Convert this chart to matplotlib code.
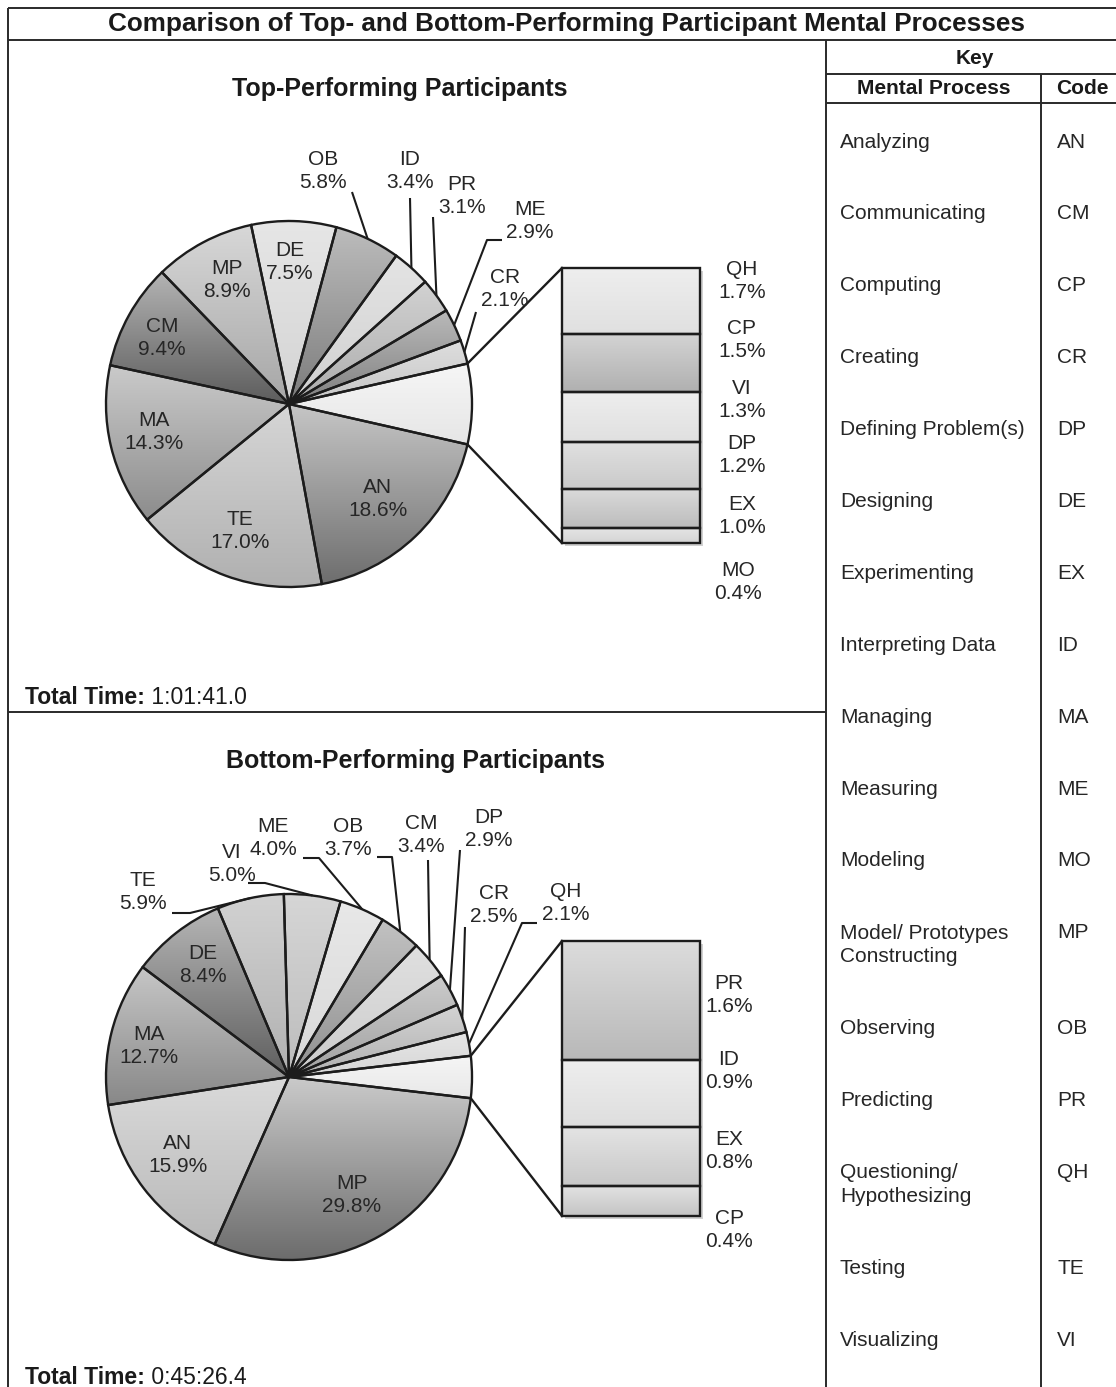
import numpy as np
import matplotlib
matplotlib.use("Agg")
import matplotlib.pyplot as plt
from matplotlib import font_manager as fm
from matplotlib.colors import to_rgb

# ---------------- data ----------------
key_processes = ["Analyzing", "Communicating", "Computing", "Creating", "Defining Problem(s)",
                 "Designing", "Experimenting", "Interpreting Data", "Managing", "Measuring",
                 "Modeling", "Model/ Prototypes\nConstructing", "Observing", "Predicting",
                 "Questioning/\nHypothesizing", "Testing", "Visualizing"]
key_codes = ["AN", "CM", "CP", "CR", "DP", "DE", "EX", "ID", "MA", "ME", "MO", "MP",
             "OB", "PR", "QH", "TE", "VI"]

top_pie_codes = ["AN", "TE", "MA", "CM", "MP", "DE", "OB", "ID", "PR", "ME", "CR"]
top_pie_values = [18.6, 17.0, 14.3, 9.4, 8.9, 7.5, 5.8, 3.4, 3.1, 2.9, 2.1]
top_bar_codes = ["QH", "CP", "VI", "DP", "EX", "MO"]
top_bar_values = [1.7, 1.5, 1.3, 1.2, 1.0, 0.4]
top_total_time = "1:01:41.0"

bottom_pie_codes = ["MP", "AN", "MA", "DE", "TE", "VI", "ME", "OB", "CM", "DP", "CR", "QH"]
bottom_pie_values = [29.8, 15.9, 12.7, 8.4, 5.9, 5.0, 4.0, 3.7, 3.4, 2.9, 2.5, 2.1]
bottom_bar_codes = ["PR", "ID", "EX", "CP"]
bottom_bar_values = [1.6, 0.9, 0.8, 0.4]
bottom_total_time = "0:45:26.4"

title = "Comparison of Top- and Bottom-Performing Participant Mental Processes"
top_subtitle = "Top-Performing Participants"
bottom_subtitle = "Bottom-Performing Participants"

# ---------------- styles / layout ----------------
W, H = 1116, 1387
EDGE = "#1c1c1c"
names = {f.name for f in fm.fontManager.ttflist}
REG = "Liberation Sans" if "Liberation Sans" in names else "DejaVu Sans"
NARROW = "Liberation Sans Narrow" if "Liberation Sans Narrow" in names else REG

def Y(y):
    return H - y

# gradient colours (top, bottom) - first entry is the aggregated "other" slice
top_pie_grad = [("#f6f6f6", "#e6e6e6"), ("#c6c6c6", "#6e6e6e"), ("#d6d6d6", "#b0b0b0"),
                ("#cacaca", "#8c8c8c"), ("#b4b4b4", "#5c5c5c"), ("#d8d8d8", "#a6a6a6"),
                ("#e6e6e6", "#d4d4d4"), ("#bcbcbc", "#7c7c7c"), ("#e4e4e4", "#d0d0d0"),
                ("#d2d2d2", "#acacac"), ("#bababa", "#808080"), ("#dedede", "#c6c6c6")]
top_bar_grad = [("#eeeeee", "#e0e0e0"), ("#d4d4d4", "#b0b0b0"), ("#eeeeee", "#e0e0e0"),
                ("#e0e0e0", "#cacaca"), ("#dadada", "#bcbcbc"), ("#e6e6e6", "#d4d4d4")]
bottom_pie_grad = [("#f6f6f6", "#e8e8e8"), ("#cacaca", "#6c6c6c"), ("#dadada", "#b8b8b8"),
                   ("#c6c6c6", "#888888"), ("#b6b6b6", "#5e5e5e"), ("#d2d2d2", "#b0b0b0"),
                   ("#d6d6d6", "#bcbcbc"), ("#e8e8e8", "#d8d8d8"), ("#c2c2c2", "#909090"),
                   ("#e0e0e0", "#cccccc"), ("#cccccc", "#a0a0a0"), ("#d4d4d4", "#b0b0b0"),
                   ("#e6e6e6", "#d6d6d6")]
bottom_bar_grad = [("#dcdcdc", "#b8b8b8"), ("#eeeeee", "#dedede"), ("#e4e4e4", "#c8c8c8"),
                   ("#e2e2e2", "#c4c4c4")]

top_layout = dict(
    center=(289, 404), radius=183,
    bar_left=562, bar_width=138, bar_top=268, bar_height=275,
    outside={"OB": (323, 171), "ID": (410, 171), "PR": (462, 196), "ME": (530, 221), "CR": (505, 289)},
    inside={"DE": (290, 262), "MP": (227, 280), "CM": (162, 338), "MA": (154, 432),
            "TE": (240, 531), "AN": (378, 499)},
    leaders={"OB": [(352, 192)], "ID": [(410, 198)], "PR": [(433, 217)],
             "ME": [(502, 240), (487, 240)], "CR": [(476, 312)]},
    bar_labels=[(742, 281), (742, 340), (742, 400), (742, 455), (742, 516), (738, 582)],
    subtitle=(400, 89), total=(25, 697),
)
bottom_layout = dict(
    center=(289, 1077), radius=183,
    bar_left=562, bar_width=138, bar_top=941, bar_height=275,
    outside={"TE": (143, 892), "VI": (232, 864), "ME": (273, 838), "OB": (348, 838),
             "CM": (421, 835), "DP": (489, 829), "CR": (494, 905), "QH": (566, 903)},
    inside={"DE": (203, 965), "MA": (149, 1046), "AN": (178, 1155), "MP": (352, 1195)},
    leaders={"TE": [(172, 913), (190, 913)], "VI": [(248, 883), (265, 883)],
             "ME": [(303, 858), (319, 858)], "OB": [(377, 857), (392, 857)],
             "CM": [(428, 860)], "DP": [(460, 850)], "CR": [(465, 927)],
             "QH": [(537, 923), (522, 923)]},
    bar_labels=[(729, 995), (729, 1071), (729, 1151), (729, 1230)],
    subtitle=(416, 761), total=(25, 1377),
)

LABEL_FS = 15
KEY_FS = 15
LBL_LS = 1.25
TXT = "#262626"

fig = plt.figure(figsize=(W / 100, H / 100), dpi=100)
ax = fig.add_axes([0, 0, 1, 1])
ax.set_xlim(0, W)
ax.set_ylim(0, H)
ax.set_axis_off()


def add_gradient(patch, c_top, c_bot, z):
    bb = patch.get_window_extent().transformed(ax.transData.inverted())
    t = np.linspace(0, 1, 256)[:, None]
    arr = (np.array(to_rgb(c_top)) * (1 - t) + np.array(to_rgb(c_bot)) * t)[:, None, :]
    im = ax.imshow(arr, extent=(bb.x0, bb.x1, bb.y0, bb.y1), origin="upper",
                   aspect="auto", interpolation="bilinear", zorder=z)
    im.set_clip_path(patch)


def draw_panel(pie_codes, pie_vals, bar_codes, bar_vals, pie_grad, bar_grad, L):
    other = sum(bar_vals)
    vals = [other] + list(pie_vals)
    total = sum(vals)
    start = other / total * 360 / 2
    cx, cy = L["center"][0], Y(L["center"][1])
    R = L["radius"]
    wedges, _ = ax.pie(vals, startangle=start, counterclock=False, center=(cx, cy),
                       radius=R, frame=True, colors=["none"] * len(vals),
                       wedgeprops=dict(edgecolor=EDGE, linewidth=1.7))
    for w, (ct, cbot) in zip(wedges, pie_grad):
        w.set_zorder(3)
        add_gradient(w, ct, cbot, 2)

    codes = ["__other__"] + list(pie_codes)
    for w, code, v in zip(wedges, codes, vals):
        txt = f"{code}\n{v:.1f}%"
        if code in L["inside"]:
            x, y = L["inside"][code]
            ax.text(x, Y(y), txt, ha="center", va="center", fontsize=LABEL_FS,
                    family=REG, color=TXT, linespacing=LBL_LS, zorder=5)
        elif code in L["outside"]:
            x, y = L["outside"][code]
            ax.text(x, Y(y), txt, ha="center", va="center", fontsize=LABEL_FS,
                    family=REG, color=TXT, linespacing=LBL_LS, zorder=5)
            th = np.deg2rad((w.theta1 + w.theta2) / 2)
            pts = [(px, Y(py)) for px, py in L["leaders"][code]]
            pts.append((cx + R * np.cos(th), cy + R * np.sin(th)))
            xs, ys = zip(*pts)
            ax.plot(xs, ys, color=EDGE, lw=1.5, zorder=4, solid_capstyle="butt")

    # bar of pie
    scale = L["bar_height"] / other
    top = Y(L["bar_top"])
    heights = np.array(bar_vals) * scale
    bottoms = top - np.cumsum(bar_vals) * scale
    xc = L["bar_left"] + L["bar_width"] / 2
    ax.bar(xc + 3, other * scale, bottom=top - other * scale - 3, width=L["bar_width"],
           color="#9a9a9a", alpha=0.45, zorder=1)
    bars = ax.bar(xc, heights, bottom=bottoms, width=L["bar_width"], color="none",
                  edgecolor=EDGE, linewidth=1.7, zorder=3)
    for b, (ct, cbot) in zip(bars, bar_grad):
        add_gradient(b, ct, cbot, 2)
    for (x, y), code, v in zip(L["bar_labels"], bar_codes, bar_vals):
        ax.text(x, Y(y), f"{code}\n{v:.1f}%", ha="center", va="center", fontsize=LABEL_FS,
                family=REG, color=TXT, linespacing=LBL_LS, zorder=5)

    # connectors from the "other" slice to the bar
    w0 = wedges[0]
    t_hi, t_lo = np.deg2rad(w0.theta2), np.deg2rad(w0.theta1)
    bx = L["bar_left"]
    ax.plot([cx + R * np.cos(t_hi), bx], [cy + R * np.sin(t_hi), top], color=EDGE, lw=1.7, zorder=4)
    ax.plot([cx + R * np.cos(t_lo), bx], [cy + R * np.sin(t_lo), top - other * scale],
            color=EDGE, lw=1.7, zorder=4)


draw_panel(top_pie_codes, top_pie_values, top_bar_codes, top_bar_values,
           top_pie_grad, top_bar_grad, top_layout)
draw_panel(bottom_pie_codes, bottom_pie_values, bottom_bar_codes, bottom_bar_values,
           bottom_pie_grad, bottom_bar_grad, bottom_layout)

# ---------------- frame ----------------
FR = dict(color="#2a2a2a", lw=1.4, zorder=6, solid_capstyle="butt")
ax.plot([8, W], [Y(8), Y(8)], **FR)
ax.plot([8, W], [Y(40), Y(40)], **FR)
ax.plot([8, 8], [Y(8), 0], **FR)
ax.plot([826, 826], [Y(40), 0], **FR)
ax.plot([8, 826], [Y(712), Y(712)], **FR)
ax.plot([826, W], [Y(74), Y(74)], **FR)
ax.plot([826, W], [Y(103), Y(103)], **FR)
ax.plot([1041, 1041], [Y(74), 0], **FR)

# ---------------- texts ----------------
ax.text(566, Y(24), title, ha="center", va="center", fontsize=18.8, family=NARROW,
        weight="bold", color="#1a1a1a")
for L, sub, tt in [(top_layout, top_subtitle, top_total_time),
                   (bottom_layout, bottom_subtitle, bottom_total_time)]:
    ax.text(L["subtitle"][0], Y(L["subtitle"][1]), sub, ha="center", va="center",
            fontsize=18, family=NARROW, weight="bold", color="#1a1a1a")
    t = ax.text(L["total"][0], Y(L["total"][1]), "Total Time:", ha="left", va="center",
                fontsize=16.5, family=NARROW, weight="bold", color="#1a1a1a")
    ax.annotate(" " + tt, xy=(1, 0.5), xycoords=t, ha="left", va="center",
                fontsize=16.5, family=NARROW, color="#1a1a1a")

ax.text(975, Y(59), "Key", ha="center", va="center", fontsize=15, family=REG,
        weight="bold", color="#1a1a1a")
ax.text(934, Y(89), "Mental Process", ha="center", va="center", fontsize=15, family=REG,
        weight="bold", color="#1a1a1a")
ax.text(1082, Y(89), "Code", ha="center", va="center", fontsize=15, family=REG,
        weight="bold", color="#1a1a1a")

row_y = 140
LINE = 23.8
for proc, code in zip(key_processes, key_codes):
    extra = proc.count("\n")
    # multi-line text aligned on baseline uses the last line's baseline
    ax.text(840, Y(row_y + 7.5 + LINE * extra), proc, ha="left", va="baseline",
            fontsize=KEY_FS, family=REG, color=TXT, linespacing=1.3)
    ax.text(1057, Y(row_y + 7.5), code, ha="left", va="baseline", fontsize=KEY_FS,
            family=REG, color=TXT)
    row_y += 71.9 + LINE * extra

ax.set_xlim(0, W)
ax.set_ylim(0, H)
fig.savefig("out.png", dpi=100)
